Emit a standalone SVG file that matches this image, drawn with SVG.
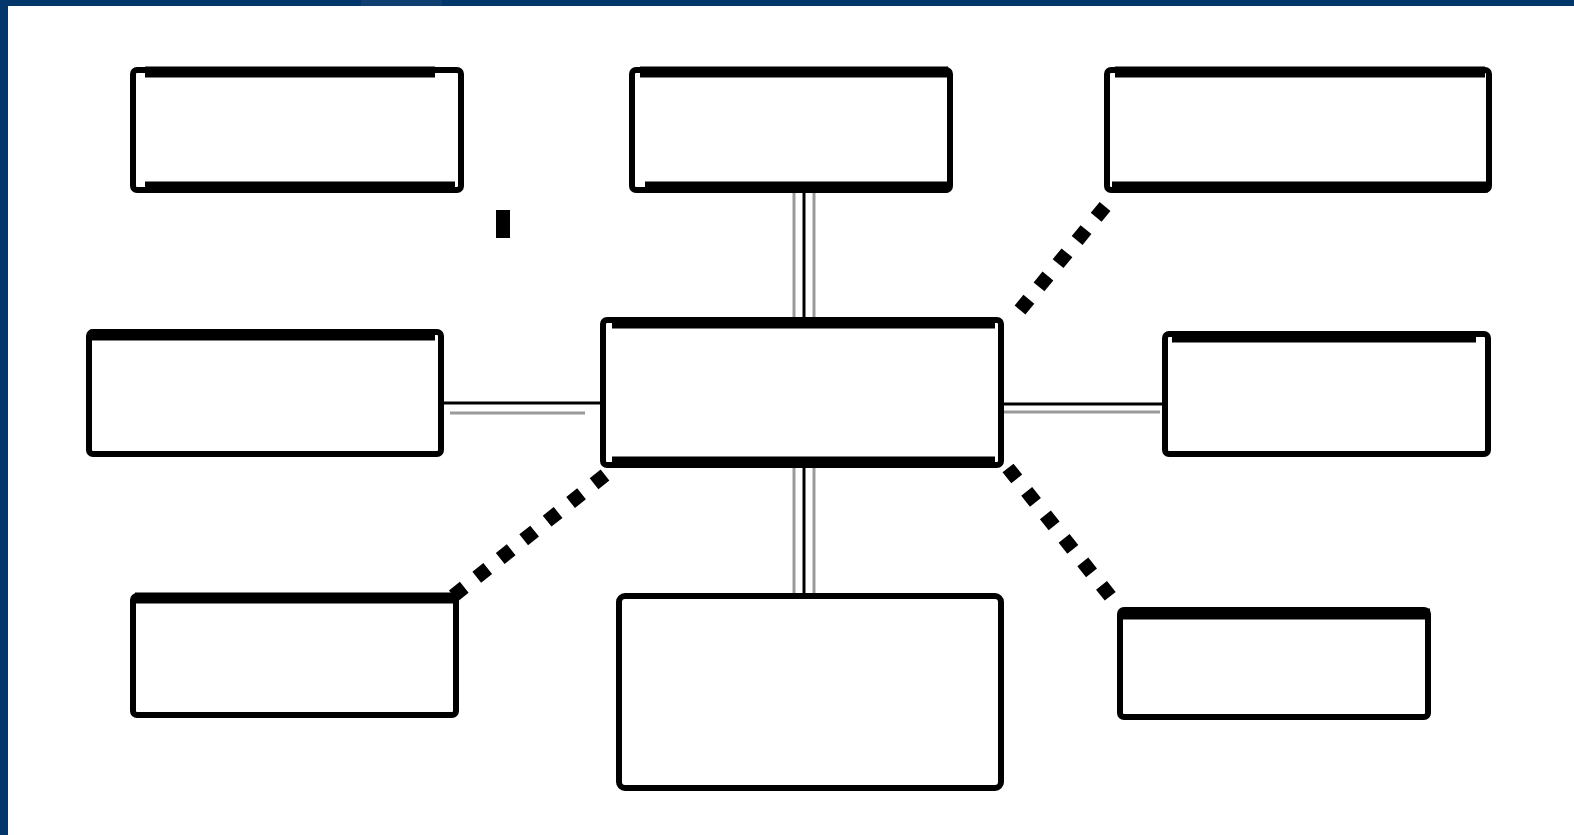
<svg xmlns="http://www.w3.org/2000/svg" width="1574" height="835" viewBox="0 0 1574 835">
<style>
.box{fill:#ffffff;stroke:#000000;stroke-width:6}
.edge{stroke:#000000;stroke-width:11;fill:none}
.ln{stroke:#000000;stroke-width:3;fill:none}
.ln2{stroke:#9a9a9a;stroke-width:3;fill:none}
.dash{stroke:#000000;stroke-width:14;stroke-dasharray:14 16;fill:none}
</style>
<rect x="0" y="0" width="1574" height="835" fill="#ffffff"/>
<rect x="0" y="0" width="1574" height="6" fill="#03366a"/>
<rect x="361" y="0" width="81" height="6" fill="#0f3f70"/>
<rect x="0" y="0" width="8" height="835" fill="#03366a"/>
<g id="connectors">
<line class="ln" x1="804" y1="192" x2="804" y2="318"/>
<line class="ln2" x1="794" y1="192" x2="794" y2="318"/>
<line class="ln2" x1="814" y1="192" x2="814" y2="318"/>
<line class="ln" x1="804" y1="467" x2="804" y2="594"/>
<line class="ln2" x1="794" y1="467" x2="794" y2="594"/>
<line class="ln2" x1="814" y1="467" x2="814" y2="594"/>
<line class="ln" x1="443" y1="403" x2="600" y2="403"/>
<line class="ln2" x1="450" y1="413" x2="585" y2="413"/>
<line class="ln" x1="1003" y1="404" x2="1163" y2="404"/>
<line class="ln2" x1="1003" y1="412" x2="1160" y2="412"/>
<line class="dash" x1="1020" y1="310" x2="1112" y2="198"/>
<line class="dash" x1="1008" y1="468" x2="1118" y2="606"/>
<line class="dash" x1="605" y1="475" x2="452" y2="597"/>
<rect x="496" y="210" width="14" height="28" fill="#000000"/>
</g>
<g id="node-tl"><rect class="box" x="133" y="70" width="328" height="120" rx="4"/><path class="edge" d="M145 72H435M145 187H455"/></g>
<g id="node-tc"><rect class="box" x="632" y="70" width="318" height="120" rx="4"/><path class="edge" d="M640 72H948M645 187H948"/></g>
<g id="node-tr"><rect class="box" x="1107" y="70" width="382" height="120" rx="4"/><path class="edge" d="M1115 72H1485M1112 187H1488"/></g>
<g id="node-ml"><rect class="box" x="89" y="332" width="352" height="122" rx="4"/><path class="edge" d="M90 335H435"/></g>
<g id="node-center"><rect class="box" x="603" y="320" width="398" height="145" rx="4"/><path class="edge" d="M612 323H995M612 462H995"/></g>
<g id="node-mr"><rect class="box" x="1165" y="334" width="323" height="120" rx="4"/><path class="edge" d="M1172 337H1476"/></g>
<g id="node-bl"><rect class="box" x="133" y="596" width="323" height="119" rx="4"/><path class="edge" d="M135 598H455"/></g>
<g id="node-bc"><rect class="box" x="619" y="596" width="382" height="192" rx="6"/></g>
<g id="node-br"><rect class="box" x="1120" y="610" width="308" height="107" rx="4"/><path class="edge" d="M1122 614H1430"/></g>
</svg>
